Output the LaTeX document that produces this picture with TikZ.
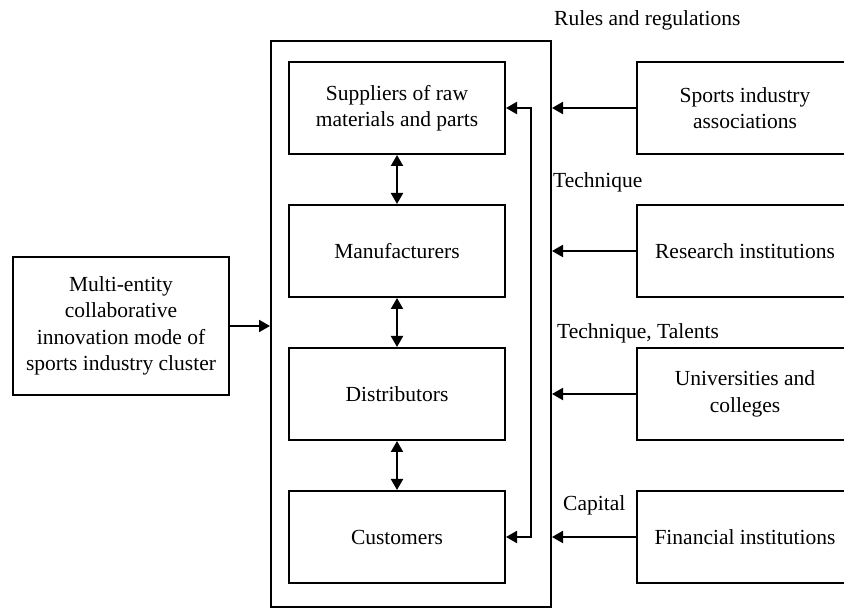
\documentclass[tikz,border=0pt]{standalone}
\usepackage{fontspec}
\setmainfont{Liberation Serif}
\usetikzlibrary{arrows.meta}

\begin{document}
\begin{tikzpicture}[x=1pt,y=-1pt]
    \tikzset{box/.style = {shape=rectangle, draw, line width=2pt, align=center, minimum width=216pt, minimum height=92pt, font=\fontsize{21.5}{26.5}\selectfont}}
    \tikzset{flow/.style = {draw, line width=2pt, -{Triangle[length=11pt,width=12pt]}}}
    \tikzset{both/.style = {draw, line width=2pt, {Triangle[length=11pt,width=12pt]}-{Triangle[length=11pt,width=12pt]}}}
    \tikzset{tag/.style = {anchor=west, inner sep=0pt, font=\fontsize{21.5}{26.5}\selectfont}}

    \clip (0,0) rectangle (844,609);

    % outer frame
    \node[box, minimum width=280pt, minimum height=566pt] (cluster) at (411,324) {};

    % chain
    \node[box] (sup) at (397,108) {Suppliers of raw\\materials and parts};
    \node[box] (man) at (397,251) {Manufacturers};
    \node[box] (dis) at (397,394) {Distributors};
    \node[box] (cus) at (397,537) {Customers};

    % outside entities
    \node[box, minimum height=138pt] (mode) at (121,326) {Multi-entity\\collaborative\\innovation mode of\\sports industry cluster};
    \node[box] (assoc) at (745,108) {Sports industry\\associations};
    \node[box] (research) at (745,251) {Research institutions};
    \node[box] (univ) at (745,394) {Universities and\\colleges};
    \node[box] (finance) at (745,537) {Financial institutions};

    % labels
    \node[tag] (rules) at (554,20) {Rules and regulations};
    \node[tag] (tech) at (553,182) {Technique};
    \node[tag] (talent) at (557,333) {Technique, Talents};
    \node[tag] (capital) at (563,505) {Capital};

    \coordinate (loop) at (531,324);

    % edges
    \draw [both] (sup) -- (man);
    \draw [both] (man) -- (dis);
    \draw [both] (dis) -- (cus);
    \draw [both] (sup.east) -| (loop) |- (cus.east);
    \draw [flow] (mode.east) -- (mode.east -| cluster.west);
    \draw [flow] (assoc.west) -- (assoc.west -| cluster.east);
    \draw [flow] (research.west) -- (research.west -| cluster.east);
    \draw [flow] (univ.west) -- (univ.west -| cluster.east);
    \draw [flow] (finance.west) -- (finance.west -| cluster.east);
\end{tikzpicture}
\end{document}
